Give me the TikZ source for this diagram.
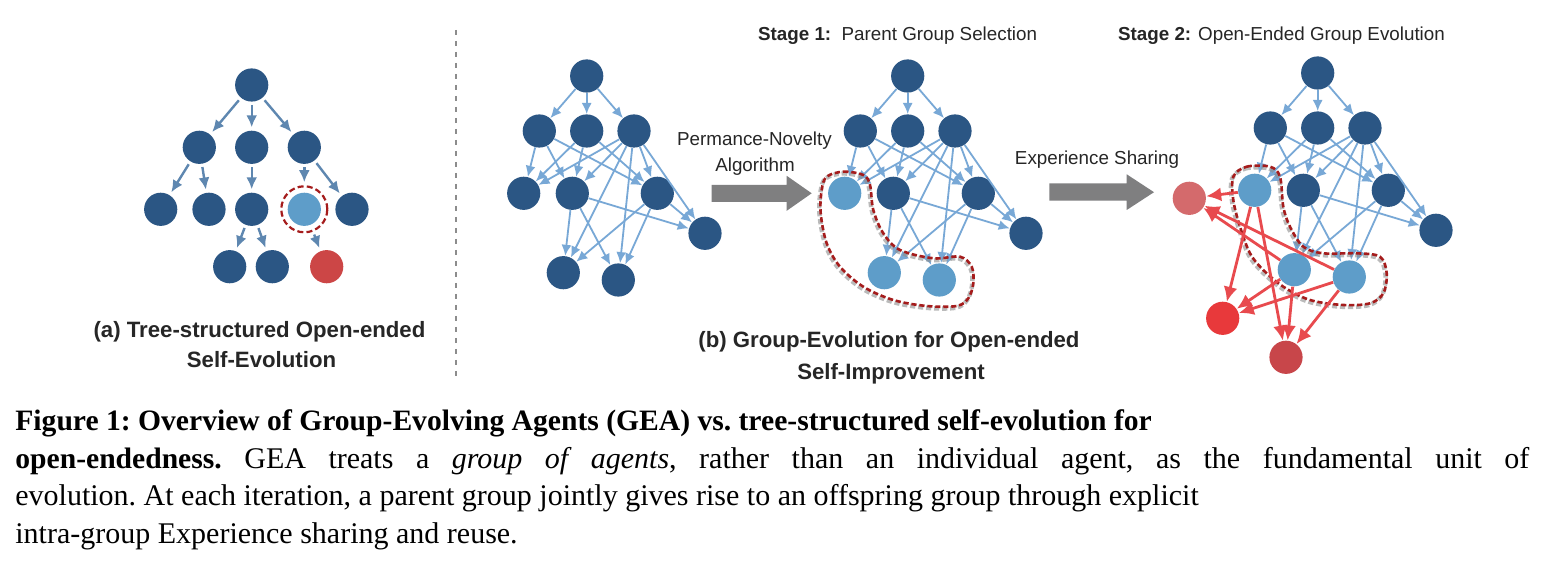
\documentclass[tikz,border=0pt]{standalone}
\usepackage{fontspec}
\setmainfont{Liberation Serif}
\setsansfont{Liberation Sans}
\usetikzlibrary{arrows.meta}
\definecolor{dblue}{HTML}{2B5684}
\definecolor{lblue}{HTML}{5E9DC9}
\definecolor{eblue}{HTML}{78A8D6}
\definecolor{tblue}{HTML}{5E87B0}
\definecolor{tred}{HTML}{CC4646}
\definecolor{redA}{HTML}{D46A6C}
\definecolor{redB}{HTML}{E8393B}
\definecolor{redC}{HTML}{C8464A}
\definecolor{rarrow}{HTML}{E84A4E}
\definecolor{dred}{HTML}{A51C1C}
\definecolor{garrow}{HTML}{7F7F80}
\newcommand\capbold[1]{{\fontsize{14.8}{17}\selectfont\bfseries #1}}
\tikzset{
  agent/.style={circle, fill=dblue, minimum size=16.6pt, inner sep=0pt},
  lagent/.style={agent, fill=lblue},
  edge/.style={draw=eblue, line width=0.9pt, -{Latex[length=5.5pt,width=5pt]}},
  tedge/.style={draw=tblue, line width=1.2pt, -{Latex[length=6pt,width=5.5pt]}, shorten >=1.5pt, shorten <=1.5pt},
  redge/.style={draw=rarrow, line width=1.4pt, -{Latex[length=7.5pt,width=7pt]}},
  blobline/.style={draw=dred, line width=1.3pt, dash pattern=on 2.6pt off 1.4pt},
  blobshadow/.style={draw=black!45, opacity=0.6, line width=2.2pt, dash pattern=on 2.6pt off 1.4pt},
  lbl/.style={font=\sffamily\fontsize{9.4}{11}\selectfont, inner sep=0pt, text=black!85},
  blbl/.style={font=\sffamily\bfseries\fontsize{11.1}{13}\selectfont, inner sep=0pt, text=black!85},
  captxt/.style={font=\frenchspacing\fontsize{15}{17}\selectfont, inner sep=0pt},
  blockarrow/.style={fill=garrow}
}
\newcommand\gegraph[5]{%
\begin{scope}[shift={#2},name prefix=#1-]
\node[agent] (r) at (0,0) {};
\node[agent] (a1) at (-47.4,55) {};
\node[agent] (a2) at (0,55) {};
\node[agent] (a3) at (47.3,55) {};
\node[#3] (b1) at (-63,117.3) {};
\node[agent] (b2) at (-14.4,117.3) {};
\node[agent] (b3) at (70.6,117.3) {};
\node[agent] (f) at (118.3,157.3) {};
\node[#4] (c1) at (-23.4,196.7) {};
\node[#5] (c2) at (31.6,204) {};
\foreach \p/\q in {r/a1,r/a2,r/a3,a1/b1,a1/b2,a1/b3,a2/b1,a2/b2,a2/b3,a3/b1,a3/b2,a3/b3,a3/f,a3/c1,a3/c2,b2/c1,b2/c2,b2/f,b3/c1,b3/c2,b3/f}
  \draw[edge] (\p) -- (\q);
\end{scope}}
\begin{document}
\begin{tikzpicture}[x=0.5pt,y=-0.5pt]
\fill[white] (0,0) rectangle (1544,566);
\path[use as bounding box] (0,0) rectangle (1544,566);

% ---------- (a) tree ----------
\node[agent] (t0) at (251.7,85) {};
\node[agent] (t1) at (199.3,147.3) {};
\node[agent] (t2) at (251.7,147.3) {};
\node[agent] (t3) at (304.3,147.3) {};
\node[agent] (t4) at (160.7,209.3) {};
\node[agent] (t5) at (209,209.3) {};
\node[agent] (t6) at (251.7,209.3) {};
\node[lagent] (t7) at (304.3,209.3) {};
\node[agent] (t8) at (352,209.3) {};
\node[agent] (t9) at (229.7,266.7) {};
\node[agent] (t10) at (272.3,266.7) {};
\node[agent, fill=tred] (t11) at (326.7,266.7) {};
\node[circle, draw=dred, line width=1.1pt, dash pattern=on 3pt off 1.6pt, minimum size=23pt, inner sep=0pt] (tc) at (304.3,209.3) {};
\foreach \p/\q in {t0/t1,t0/t2,t0/t3,t1/t4,t1/t5,t2/t6,t3/tc,t3/t8,t6/t9,t6/t10,tc/t11}
  \draw[tedge] (\p) -- (\q);
\node[blbl, anchor=base] (la1) at (259.5,338) {(a) Tree-structured Open-ended};
\node[blbl, anchor=base] (la2) at (261.5,368) {Self-Evolution};

% separator
\coordinate (s1) at (456,30);
\coordinate (s2) at (456,380);
\draw[black!45, line width=0.6pt, dash pattern=on 2.5pt off 3pt] (s1) -- (s2);

% ---------- (b) graphs ----------
\gegraph{m}{(586.7,76)}{agent}{agent}{agent}
\gegraph{p}{(907.7,76)}{lagent}{lagent}{lagent}
\gegraph{s}{(1317.7,73)}{lagent}{lagent}{lagent}

% stage 1 selection outline
\draw[blobshadow, xshift=-0.6pt, yshift=-0.9pt] plot[smooth cycle, tension=0.55] coordinates {(826.7,176.7) (843.3,171.7) (863.3,175) (870,185) (873.3,210) (883.3,233.3) (900,250) (933.3,258.3) (960,256.7) (971.7,266.7) (973.3,283.3) (968.3,298.3) (956.7,306) (926.7,306) (893.3,300) (863.3,286.7) (840,266.7) (826.7,243.3) (820.7,213.3) (821.7,190)};
\draw[blobline] plot[smooth cycle, tension=0.55] coordinates {(826.7,176.7) (843.3,171.7) (863.3,175) (870,185) (873.3,210) (883.3,233.3) (900,250) (933.3,258.3) (960,256.7) (971.7,266.7) (973.3,283.3) (968.3,298.3) (956.7,306) (926.7,306) (893.3,300) (863.3,286.7) (840,266.7) (826.7,243.3) (820.7,213.3) (821.7,190)};

% stage 2 group outline
\draw[blobshadow, xshift=-0.6pt, yshift=-0.9pt] plot[smooth cycle, tension=0.55] coordinates {(1233.3,176.7) (1246.7,166.7) (1270,166.7) (1280,176.7) (1283.3,206.7) (1290,226.7) (1303.3,246.7) (1323.3,253.3) (1356.7,253.3) (1380,256.7) (1386.7,273.3) (1383.3,293.3) (1370,303.3) (1343.3,305) (1310,300) (1283.3,286.7) (1263.3,270) (1250,253.3) (1240,226.7) (1233.3,200)};
\draw[blobline] plot[smooth cycle, tension=0.55] coordinates {(1233.3,176.7) (1246.7,166.7) (1270,166.7) (1280,176.7) (1283.3,206.7) (1290,226.7) (1303.3,246.7) (1323.3,253.3) (1356.7,253.3) (1380,256.7) (1386.7,273.3) (1383.3,293.3) (1370,303.3) (1343.3,305) (1310,300) (1283.3,286.7) (1263.3,270) (1250,253.3) (1240,226.7) (1233.3,200)};

% offspring agents
\node[agent, fill=redA] (o1) at (1189.3,198.3) {};
\node[agent, fill=redB] (o2) at (1222.7,318.3) {};
\node[agent, fill=redC] (o3) at (1286,357.3) {};
\foreach \p/\q in {s-b1/o1,s-c1/o1,s-c2/o1,s-b1/o2,s-b1/o3,s-c1/o2,s-c2/o2,s-c1/o3,s-c2/o3}
  \draw[redge] (\p) -- (\q);

% block arrows
\fill[blockarrow] (711.7,184.8) -- (786.7,184.8) -- (786.7,175.8) -- (811.7,193.3) -- (786.7,210.8) -- (786.7,201.8) -- (711.7,201.8) -- cycle;
\fill[blockarrow] (1049.3,183.3) -- (1126.7,183.3) -- (1126.7,174.3) -- (1154,192.2) -- (1126.7,210) -- (1126.7,200.7) -- (1049.3,200.7) -- cycle;

% labels
\node[lbl, anchor=base] (pn1) at (754.5,145.5) {Permance-Novelty};
\node[lbl, anchor=base] (pn2) at (755,171.5) {Algorithm};
\node[lbl, anchor=base] (es) at (1097,165) {Experience Sharing};
\node[lbl, anchor=base west] (st1) at (757.7,41) {\textbf{Stage 1:}\ \ Parent Group Selection};
\node[lbl, anchor=base west] (st2) at (1117.7,41) {\textbf{Stage 2:} Open-Ended Group Evolution};
\node[blbl, anchor=base] (lb1) at (889,348) {(b) Group-Evolution for Open-ended};
\node[blbl, anchor=base] (lb2) at (891,379.5) {Self-Improvement};

% caption
\node[captxt, anchor=base west] (cp1) at (15,431) {\capbold{Figure 1: Overview of Group-Evolving Agents (GEA) vs. tree-structured self-evolution for}};
\node[captxt, anchor=base west] (cp2) at (15,469) {\makebox[757pt][s]{\capbold{open-endedness.} GEA treats a \textit{group of agents}, rather than an individual agent, as the fundamental unit of}};
\node[captxt, anchor=base west] (cp3) at (15,506) {evolution. At each iteration, a parent group jointly gives rise to an offspring group through explicit};
\node[captxt, anchor=base west] (cp4) at (15,544) {intra-group Experience sharing and reuse.};
\end{tikzpicture}
\end{document}
